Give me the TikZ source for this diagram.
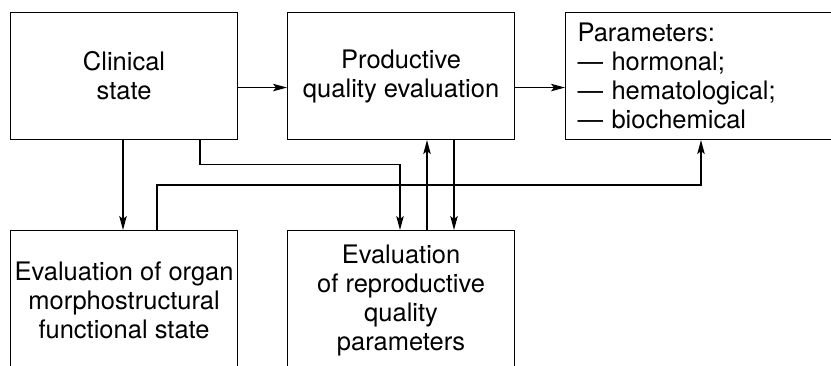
\documentclass[tikz,border=0pt]{standalone}
\usepackage{fontspec}
\setmainfont{TeX Gyre Heros}
\usetikzlibrary{positioning,arrows.meta}
\tikzset{
  block/.style={draw, line width=1.1pt, minimum width=227pt, minimum height=127pt,
    align=center, inner sep=0pt, anchor=north west,
    font=\fontsize{25.5}{29}\selectfont},
  lowblock/.style={block, minimum height=140pt},
  arr/.style={line width=1.1pt, -{Stealth[length=14pt,width=7.5pt,inset=3pt]}}
}
\begin{document}
\begin{tikzpicture}[x=1pt,y=-1pt]
\useasboundingbox (0,0) rectangle (831,366);
\clip (0,0) rectangle (831,366);

% top row
\node[block] (clin) at (10,12) {Clinical\\state};
\node[block] (prod) at (287,12) {Productive\\quality evaluation};
\node[block, minimum width=280pt, align=left, text width=256pt] (params) at (565,12)
  {Parameters:\\— hormonal;\\— hematological;\\— biochemical};

% bottom row
\node[lowblock] (organ) at (10,230) {Evaluation of organ\\morphostructural\\functional state};
\node[lowblock] (repro) at (287,230) {Evaluation\\of reproductive\\quality\\parameters};

% horizontal arrows
\draw[arr] ([yshift=-11.5pt]clin.east) -- ([yshift=-11.5pt]prod.west);
\draw[arr] ([yshift=-11.5pt]prod.east) -- ([yshift=-11.5pt]params.west);

% vertical links
\draw[arr] ([xshift=113pt]clin.south west) -- ([xshift=113pt]organ.north west);
\draw[arr] ([xshift=190pt]clin.south west) -- ++(0,24) -| ([xshift=113pt]repro.north west);
\draw[arr] ([xshift=147pt]organ.north west) -- ++(0,-45) -| ([xshift=136pt]params.south west);
\draw[arr] ([xshift=140pt]repro.north west) -- ([xshift=140pt]prod.south west);
\draw[arr] ([xshift=167pt]prod.south west) -- ([xshift=167pt]repro.north west);
\end{tikzpicture}
\end{document}
